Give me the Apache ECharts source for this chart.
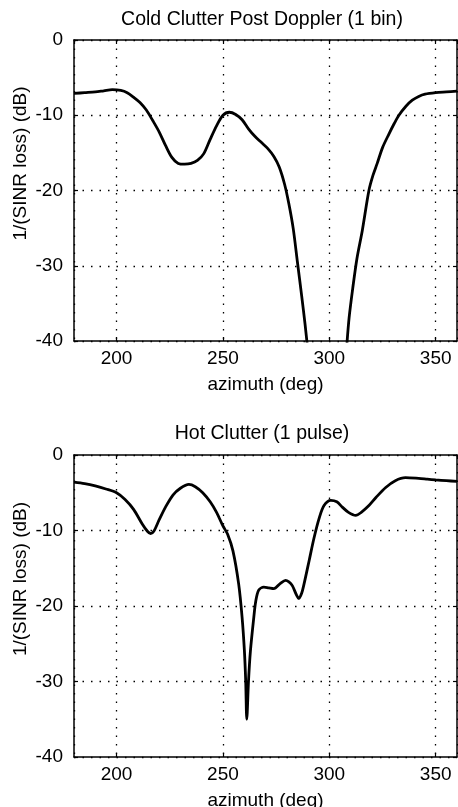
<!DOCTYPE html>
<html><head><meta charset="utf-8">
<script src="https://cdn.jsdelivr.net/npm/echarts@6/dist/echarts.min.js"></script>
<style>html,body{margin:0;padding:0;background:#fff}#c{width:458px;height:807px}</style>
</head><body><div id="c"></div>
<script>
const titles = ['Cold Clutter Post Doppler (1 bin)', 'Hot Clutter (1 pulse)'];
const xName = 'azimuth (deg)';
const yName = '1/(SINR loss) (dB)';
const xRange = [180, 360];
const yRange = [-40, 0];
const xTicks = [200, 250, 300, 350];
const yTicks = [0, -10, -20, -30, -40];

// Cold clutter (post Doppler, 1 bin)
const coldAz = [180, 185, 190, 194, 198, 202, 205, 208, 211, 214, 217, 220, 223, 226, 229, 232, 235, 238, 241, 244, 247, 250, 253, 256, 259, 262, 265, 268, 271, 274, 276.5, 279, 281, 283, 285, 287, 288.6, 289.8, 299, 308.1, 309.3, 311, 313, 315.5, 318.6, 320.5, 322.5, 325, 328, 330.5, 332.7, 336, 339, 342, 345, 350, 355, 360];
const coldDb = [-7.1, -7.0, -6.9, -6.75, -6.6, -6.7, -7.0, -7.6, -8.3, -9.3, -10.7, -12.2, -14.0, -15.6, -16.4, -16.5, -16.4, -16.0, -15.1, -13.2, -11.4, -10.0, -9.6, -9.9, -10.6, -11.8, -12.8, -13.6, -14.4, -15.5, -16.9, -19.2, -21.8, -25.0, -29.5, -34.0, -37.8, -41, '-', -41, -36.9, -33, -29, -25.3, -20, -18, -16.4, -14.3, -12.5, -11.1, -10.0, -8.8, -8.0, -7.5, -7.2, -7.0, -6.9, -6.8];

// Hot clutter (1 pulse)
const hotAz = [180, 185, 190, 195, 200, 204, 208, 212, 214.5, 216, 217.5, 220, 223, 226.5, 230, 234, 237, 240.5, 244, 247, 250, 252.2, 254.7, 257.4, 259, 260.1, 260.7, 261.2, 262.0, 262.9, 264.5, 265.4, 266.8, 269.2, 271.5, 273.9, 277, 279.4, 281, 282.6, 284.5, 285.7, 287, 288.1, 290.5, 292.8, 295.2, 297.5, 300.7, 303.5, 306.1, 309, 312.4, 315, 318.6, 322, 326.5, 331, 335.8, 342, 346, 350, 355, 360];
const hotDb = [-3.6, -3.8, -4.1, -4.5, -5.0, -5.9, -7.2, -9.1, -10.1, -10.4, -10.1, -8.6, -6.9, -5.3, -4.4, -3.9, -4.2, -5.0, -6.2, -7.6, -9.4, -10.5, -12.7, -17.1, -21.5, -26, -30, -35, -30, -26, -21.5, -19.4, -17.9, -17.5, -17.6, -17.7, -17.0, -16.6, -16.8, -17.3, -18.5, -19.0, -18.3, -17.1, -14.0, -11.0, -8.4, -6.7, -6.0, -6.2, -6.9, -7.6, -8.0, -7.6, -6.7, -5.6, -4.3, -3.4, -3.0, -3.1, -3.2, -3.3, -3.4, -3.5];

const FONT = 'Liberation Sans, Arial, Helvetica, sans-serif';
const chart = echarts.init(document.getElementById('c'), null, {renderer: 'canvas'});
const gridsPos = [{top: 40, height: 301}, {top: 455, height: 302}];
const titleTops = [5, 419];
const seriesSets = [[coldAz, coldDb], [hotAz, hotDb]];

const grid = [], xAxis = [], yAxis = [], series = [], title = [];
gridsPos.forEach((g, i) => {
  grid.push({left: 74, width: 383, top: g.top, height: g.height, outerBoundsMode: 'none', containLabel: false});
  title.push({text: titles[i], left: 257, top: titleTops[i], textAlign: 'center',
    textStyle: {color: '#000', fontSize: 19.5, fontWeight: 'normal', fontFamily: FONT}});
  const lineSt = {color: '#000', width: 1.5};
  xAxis.push({
    gridIndex: i, type: 'value', min: xRange[0], max: xRange[1], splitNumber: 4, position: 'bottom',
    name: xName, nameLocation: 'middle', nameGap: 34, nameMoveOverlap: false,
    nameTextStyle: {color: '#000', fontSize: 19, fontFamily: FONT},
    axisLine: {show: true, onZero: false, lineStyle: lineSt},
    axisTick: {show: true, inside: true, length: 4, lineStyle: {color: '#000', width: 1.2}},
    axisLabel: {color: '#000', fontSize: 19, fontFamily: FONT, margin: 8, showMinLabel: false, showMaxLabel: false,
      formatter: v => xTicks.includes(v) ? String(v) : ''},
    splitLine: {show: true, lineStyle: {color: '#000', width: 1.3, type: [1.5, 7]}}
  });
  xAxis.push({
    gridIndex: i, type: 'value', min: xRange[0], max: xRange[1], splitNumber: 4, position: 'top',
    axisLine: {show: true, onZero: false, lineStyle: lineSt},
    axisTick: {show: true, inside: true, length: 4, lineStyle: {color: '#000', width: 1.2}},
    axisLabel: {show: false}, splitLine: {show: false}
  });
  yAxis.push({
    gridIndex: i, type: 'value', min: yRange[0], max: yRange[1], interval: 10, position: 'left',
    name: yName, nameLocation: 'middle', nameGap: 44, nameMoveOverlap: false,
    nameTextStyle: {color: '#000', fontSize: 19, fontFamily: FONT, padding: [0, 0, 0, 54]},
    axisLine: {show: true, onZero: false, lineStyle: lineSt},
    axisTick: {show: true, inside: true, length: 4, lineStyle: {color: '#000', width: 1.2}},
    axisLabel: {color: '#000', fontSize: 19, fontFamily: FONT, margin: 11,
      formatter: v => yTicks.includes(v) ? String(v) : ''},
    splitLine: {show: true, lineStyle: {color: '#000', width: 1.3, type: [1.5, 7]}}
  });
  yAxis.push({
    gridIndex: i, type: 'value', min: yRange[0], max: yRange[1], interval: 10, position: 'right',
    axisLine: {show: true, onZero: false, lineStyle: lineSt},
    axisTick: {show: true, inside: true, length: 4, lineStyle: {color: '#000', width: 1.2}},
    axisLabel: {show: false}, splitLine: {show: false}
  });
  const [az, db] = seriesSets[i];
  series.push({
    type: 'line', xAxisIndex: 2 * i, yAxisIndex: 2 * i,
    data: az.map((a, k) => [a, db[k]]),
    showSymbol: false, smooth: 0.3, connectNulls: false, clip: true,
    lineStyle: {color: '#000', width: 2.8}, animation: false
  });
});

chart.setOption({backgroundColor: '#fff', animation: false, title, grid, xAxis, yAxis, series});
</script></body></html>
